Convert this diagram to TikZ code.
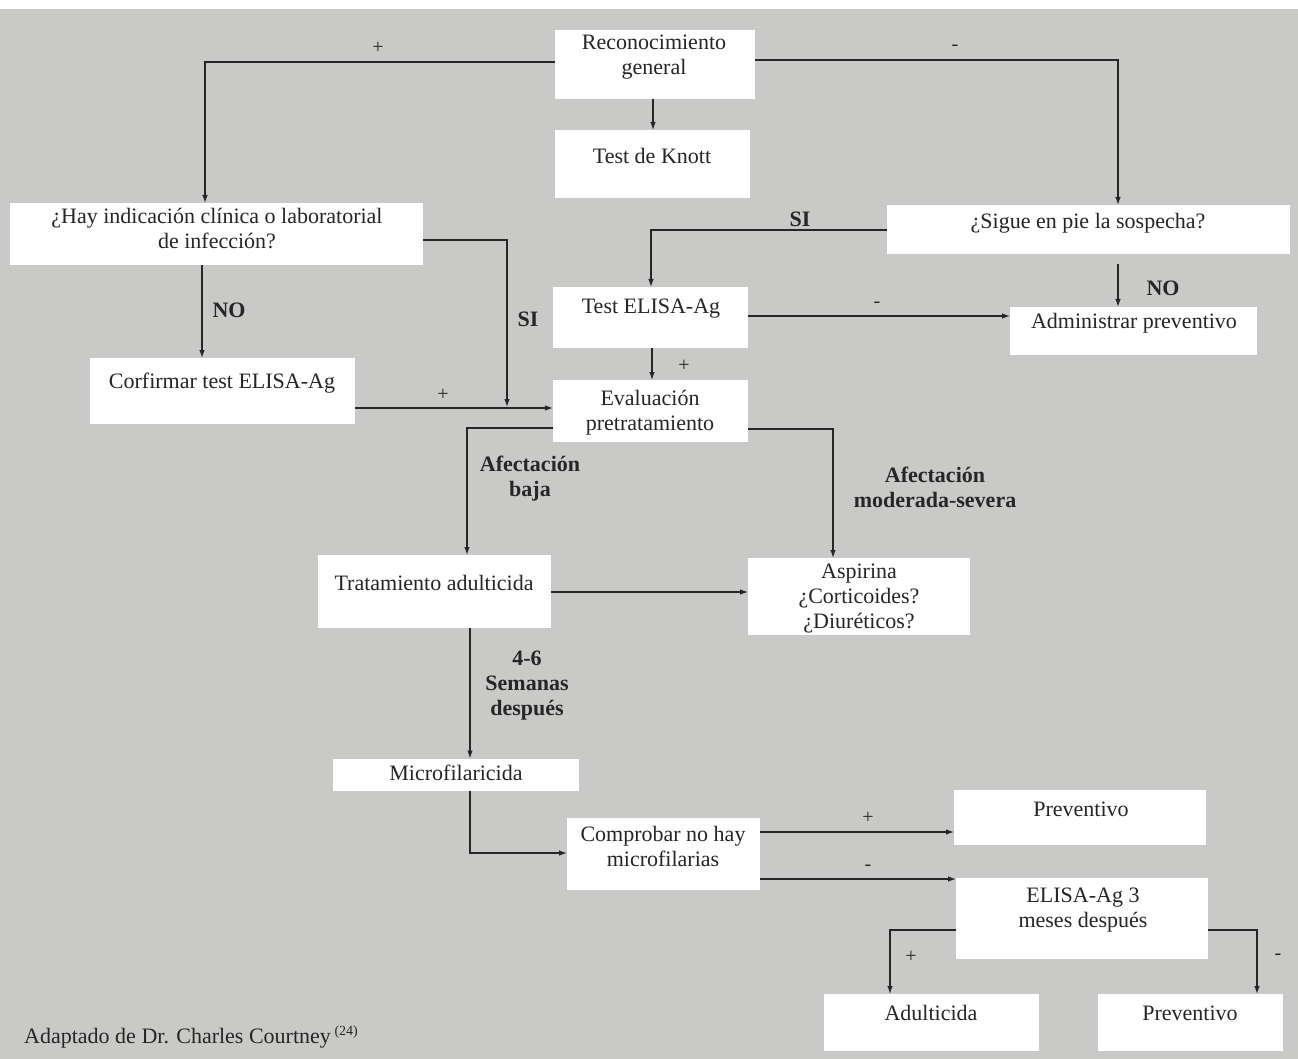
\documentclass[tikz,border=0pt]{standalone}
\usepackage{fontspec}
\setmainfont{Liberation Serif}
\usetikzlibrary{arrows.meta}
\definecolor{bgcol}{RGB}{201,201,199}
\definecolor{ink}{RGB}{38,38,38}
\begin{document}
\begin{tikzpicture}[x=1pt,y=-1pt,
  box/.style={fill=white, draw=none, inner sep=0pt, outer sep=0pt},
  txt/.style={font=\fontsize{22}{25}\selectfont, text=ink, align=center, inner sep=0pt},
  lab/.style={font=\fontsize{22}{25}\selectfont\bfseries, text=ink, align=center, inner sep=0pt},
  sgn/.style={font=\fontsize{20}{24}\selectfont, text=ink, inner sep=0pt},
  ln/.style={draw=ink, line width=1.2pt},
  arr/.style={draw=ink, line width=1.2pt, -{Latex[length=8pt,width=5.5pt]}}]
% background
\fill[white] (0,0) rectangle (1298,1059);
\fill[bgcol] (0,9) rectangle (1298,1059);
\useasboundingbox (0,0) rectangle (1298,1059);

% boxes
\node[box, minimum width=200pt, minimum height=69pt] (rec) at (655,64.5) {};
\node[box, minimum width=195pt, minimum height=68pt] (knott) at (652.5,164) {};
\node[box, minimum width=413pt, minimum height=62pt] (hay) at (216.5,234) {};
\node[box, minimum width=403pt, minimum height=49pt] (sigue) at (1088.5,229.5) {};
\node[box, minimum width=195pt, minimum height=61pt] (elisa) at (650.5,317.5) {};
\node[box, minimum width=247pt, minimum height=48pt] (admin) at (1133.5,331) {};
\node[box, minimum width=265pt, minimum height=66pt] (corf) at (222.5,391) {};
\node[box, minimum width=195pt, minimum height=62pt] (eval) at (650.5,411) {};
\node[box, minimum width=233pt, minimum height=73pt] (trat) at (434.5,591.5) {};
\node[box, minimum width=222pt, minimum height=77pt] (asp) at (859,596.5) {};
\node[box, minimum width=246pt, minimum height=32pt] (micro) at (456,774.5) {};
\node[box, minimum width=193pt, minimum height=72pt] (comp) at (663.5,854) {};
\node[box, minimum width=252pt, minimum height=55pt] (prevA) at (1080,817) {};
\node[box, minimum width=252pt, minimum height=81pt] (elisaT) at (1082,918.5) {};
\node[box, minimum width=215pt, minimum height=57pt] (adult) at (931.5,1022.5) {};
\node[box, minimum width=185pt, minimum height=57pt] (prevB) at (1190.5,1022.5) {};

% texts
\node[txt] (recT) at (654,57) {Reconocimiento\\general};
\node[txt] (knottT) at (652,156) {Test de Knott};
\node[txt] (hayT) at (217,229) {¿Hay indicación clínica o laboratorial\\de infección?};
\node[txt] (sigueT) at (1088,223) {¿Sigue en pie la sospecha?};
\node[txt] (elisaT2) at (651,309) {Test ELISA-Ag};
\node[txt] (adminT) at (1134,323) {Administrar preventivo};
\node[txt] (corfT) at (222,383) {Corfirmar test ELISA-Ag};
\node[txt] (evalT) at (650,413) {Evaluación\\pretratamiento};
\node[txt] (tratT) at (434,583) {Tratamiento adulticida};
\node[txt] (aspT) at (859,598) {Aspirina\\¿Corticoides?\\¿Diuréticos?};
\node[txt] (microT) at (456,773) {Microfilaricida};
\node[txt] (compT) at (663,846) {Comprobar no hay\\microfilarias};
\node[txt] (prevAT) at (1081,809) {Preventivo};
\node[txt] (elisaTT) at (1083,910) {ELISA-Ag 3\\meses después};
\node[txt] (adultT) at (931,1013) {Adulticida};
\node[txt] (prevBT) at (1190,1013) {Preventivo};

% coordinates
\coordinate (jn) at (507,407);

% connectors
\draw[arr] (rec.west |- 0,62) -| (hay.north -| 205,0);
\draw[arr] (rec.east |- 0,60) -| (sigue.north -| 1118,0);
\draw[arr] (rec.south -| 653,0) -- (knott.north -| 653,0);
\draw[arr] (hay.south -| 202,0) -- (corf.north -| 202,0);
\draw[arr] (hay.east |- 0,240) -| (jn);
\draw[arr] (corf.east |- 0,408) -- (eval.west |- 0,408);
\draw[arr] (sigue.west |- 0,230) -| (elisa.north -| 651,0);
\draw[arr, shorten <=10pt] (sigue.south -| 1118,0) -- (admin.north -| 1118,0);
\draw[arr] (elisa.east |- 0,316) -- (admin.west |- 0,316);
\draw[arr] (elisa.south -| 652,0) -- (eval.north -| 652,0);
\draw[arr] (eval.west |- 0,428) -| (trat.north -| 467,0);
\draw[arr] (eval.east |- 0,429) -| (asp.north -| 833,0);
\draw[arr] (trat.east |- 0,592) -- (asp.west |- 0,592);
\draw[arr] (trat.south -| 470,0) -- (micro.north -| 470,0);
\draw[arr] (micro.south -| 470,0) |- (comp.west |- 0,853);
\draw[arr] (comp.east |- 0,832) -- (prevA.west |- 0,832);
\draw[arr] (comp.east |- 0,879) -- (elisaT.west |- 0,879);
\draw[arr] (elisaT.west |- 0,930) -| (adult.north -| 890,0);
\draw[arr] (elisaT.east |- 0,930) -| (prevB.north -| 1257,0);

% labels
\node[sgn] (s1) at (378,48) {+};
\node[sgn] (s2) at (955,48) {-};
\node[sgn] (s3) at (443,395) {+};
\node[sgn] (s4) at (877,305) {-};
\node[sgn] (s5) at (684,366) {+};
\node[sgn] (s6) at (868,818) {+};
\node[sgn] (s7) at (868,868) {-};
\node[sgn] (s8) at (911,957) {+};
\node[sgn] (s9) at (1278,957) {-};
\node[lab] (noA) at (229,310) {NO};
\node[lab] (siA) at (528,319) {SI};
\node[lab] (siB) at (800,219) {SI};
\node[lab] (noB) at (1163,288) {NO};
\node[lab] (afb) at (530,479) {Afectación\\baja};
\node[lab] (afm) at (935,487) {Afectación\\moderada-severa};
\node[lab] (sem) at (527,686) {4-6\\Semanas\\después};

% footnote
\node[txt, anchor=base west] (foot) at (24,1043) {Adaptado de Dr. Charles Courtney\,\raisebox{8pt}{\fontsize{14}{16}\selectfont(24)}};
\end{tikzpicture}
\end{document}
